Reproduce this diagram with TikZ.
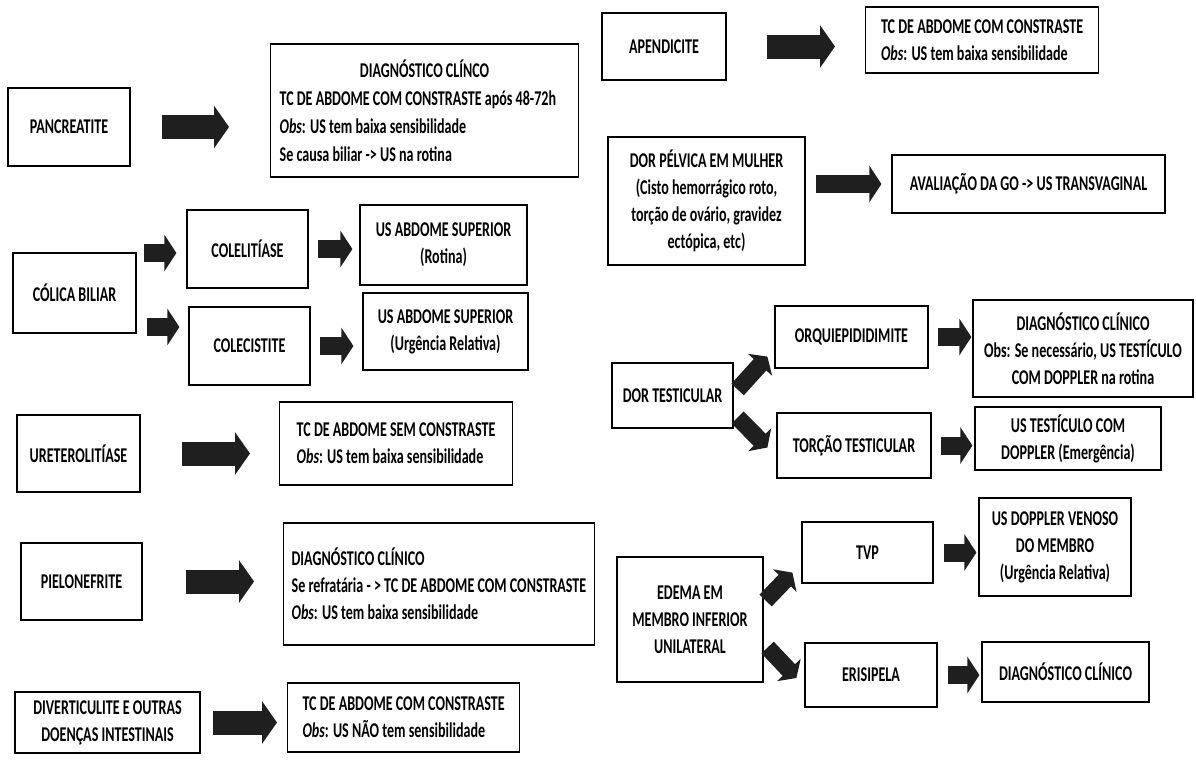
\documentclass[tikz,border=0pt]{standalone}
\usepackage{fontspec}
\setmainfont{Carlito}[FakeStretch=0.67]
\usetikzlibrary{arrows.meta,calc}

\begin{document}
\begin{tikzpicture}[x=1pt, y=-1pt,
    every node/.style={font=\fontsize{21}{27}\selectfont\bfseries},
    box/.style={draw, line width=1.2pt, inner sep=0pt, align=center},
    lbox/.style={draw, line width=1.2pt, inner xsep=11pt, inner ysep=0pt, align=flush left, anchor=west},
    blk/.style={line width=24pt, black!88, -{Triangle[length=15pt,width=42pt]}},
    sblk/.style={line width=18pt, black!88, -{Triangle[length=12pt,width=36pt]}},
    dblk/.style={line width=17pt, black!88, -{Triangle[length=11pt,width=32pt]}}]
  \fill [white] (0,0) rectangle (1196,769);
  \useasboundingbox (0,0) rectangle (1196,769);

  % coluna esquerda
  \node [box, minimum width=122pt, minimum height=78pt] (pan) at (69,127) {PANCREATITE};
  \node [lbox, text width=290pt, inner xsep=9pt, minimum height=133pt] (panres) at (270,110.5)
    {\makebox[290pt]{DIAGNÓSTICO CLÍNCO}\\[1pt] TC DE ABDOME COM CONSTRASTE após 48-72h\\[1pt] \textit{Obs}: US tem baixa sensibilidade\\[1pt] Se causa biliar -> US na rotina};
  \node [box, minimum width=123pt, minimum height=80pt] (col) at (74.5,293) {CÓLICA BILIAR};
  \node [box, minimum width=121pt, minimum height=78pt] (lit) at (247.5,249) {COLELITÍASE};
  \node [box, minimum width=121pt, minimum height=78pt] (cis) at (249.5,346) {COLECISTITE};
  \node [box, minimum width=167pt, minimum height=80pt] (usr) at (443.5,245) {US ABDOME SUPERIOR\\(Rotina)};
  \node [box, minimum width=165pt, minimum height=77pt] (usu) at (445.5,331.5) {US ABDOME SUPERIOR\\(Urgência Relativa)};
  \node [box, minimum width=123pt, minimum height=77pt] (ure) at (78.5,453.5) {URETEROLITÍASE};
  \node [lbox, minimum width=233pt, minimum height=83pt] (ureres) at (279,443.5)
    {TC DE ABDOME SEM CONSTRASTE\\ \textit{Obs}: US tem baixa sensibilidade};
  \node [box, minimum width=121pt, minimum height=77pt] (pie) at (81.5,581.5) {PIELONEFRITE};
  \node [lbox, inner xsep=8pt, minimum width=309pt, minimum height=122pt] (pieres) at (283,584)
    {DIAGNÓSTICO CLÍNICO\\ Se refratária - > TC DE ABDOME COM CONSTRASTE\\ \textit{Obs}: US tem baixa sensibilidade};
  \node [box, minimum width=185pt, minimum height=61pt] (div) at (107.5,722.5) {DIVERTICULITE E OUTRAS\\DOENÇAS INTESTINAIS};
  \node [lbox, minimum width=232pt, minimum height=69pt] (divres) at (287,717.5)
    {TC DE ABDOME COM CONSTRASTE\\ \textit{Obs}: US NÃO tem sensibilidade};

  % coluna direita
  \node [box, minimum width=124pt, minimum height=67pt] (ape) at (664,46.5) {APENDICITE};
  \node [lbox, minimum width=233pt, minimum height=66pt] (aperes) at (865,40)
    {TC DE ABDOME COM CONSTRASTE\\ \textit{Obs}: US tem baixa sensibilidade};
  \node [box, minimum width=197pt, minimum height=128pt] (pel) at (706.5,201)
    {DOR PÉLVICA EM MULHER\\(Cisto hemorrágico roto,\\torção de ovário, gravidez\\ectópica, etc)};
  \node [box, minimum width=273pt, minimum height=58pt] (pelres) at (1028.5,184) {AVALIAÇÃO DA GO -> US TRANSVAGINAL};
  \node [box, minimum width=121pt, minimum height=65pt] (dor) at (672.5,395.5) {DOR TESTICULAR};
  \node [box, minimum width=153pt, minimum height=62pt] (orq) at (851.5,337) {ORQUIEPIDIDIMITE};
  \node [box, minimum width=154pt, minimum height=65pt] (tor) at (854,445.5) {TORÇÃO TESTICULAR};
  \node [box, minimum width=220pt, minimum height=97pt] (orqres) at (1083,348.5)
    {DIAGNÓSTICO CLÍNICO\\Obs: Se necessário, US TESTÍCULO\\COM DOPPLER na rotina};
  \node [box, minimum width=186pt, minimum height=63pt] (torres) at (1068,438.5) {US TESTÍCULO COM\\DOPPLER (Emergência)};
  \node [box, minimum width=146pt, minimum height=125pt] (ede) at (690,619.5) {EDEMA EM\\MEMBRO INFERIOR\\UNILATERAL};
  \node [box, minimum width=131pt, minimum height=61pt] (tvp) at (867.5,552.5) {TVP};
  \node [box, minimum width=132pt, minimum height=64pt] (eri) at (871,675) {ERISIPELA};
  \node [box, minimum width=152pt, minimum height=98pt] (tvpres) at (1055,547) {US DOPPLER VENOSO\\DO MEMBRO\\(Urgência Relativa)};
  \node [box, minimum width=167pt, minimum height=60pt] (erires) at (1065.5,672) {DIAGNÓSTICO CLÍNICO};

  \coordinate (c1) at ($(col.east)+(0,-40)$);
  \coordinate (c2) at ($(col.east)+(0,34)$);
  \coordinate (d1) at ($(dor.east)+(4,-6)$);
  \coordinate (d2) at ($(orq.south west)+(-7,-12)$);
  \coordinate (d3) at ($(dor.east)+(4,22)$);
  \coordinate (d4) at ($(tor.west)+(-9,2)$);
  \coordinate (e1) at ($(ede.east)+(2,-19)$);
  \coordinate (e2) at ($(tvp.south west)+(-9,-11)$);
  \coordinate (e3) at ($(ede.east)+(4,28)$);
  \coordinate (e4) at ($(eri.west)+(-8,3)$);

  \draw [blk, shorten <=31pt, shorten >=41pt] (pan.east) -- (pan.east -| panres.west);
  \draw [sblk, shorten <=7pt, shorten >=10pt] (c1) -- (c1 -| lit.west);
  \draw [sblk, shorten <=10pt, shorten >=9pt] (c2) -- (c2 -| cis.west);
  \draw [sblk, shorten <=9pt, shorten >=7pt] (lit.east) -- (lit.east -| usr.west);
  \draw [sblk, shorten <=9pt, shorten >=9pt] (cis.east) -- (cis.east -| usu.west);
  \draw [blk, shorten <=41pt, shorten >=29pt] (ure.east) -- (ure.east -| ureres.west);
  \draw [blk, shorten <=43pt, shorten >=29pt] (pie.east) -- (pie.east -| pieres.west);
  \draw [blk, shorten <=12pt, shorten >=10pt] (div.east) -- (div.east -| divres.west);
  \draw [blk, shorten <=40pt, shorten >=30pt] (ape.east) -- (ape.east -| aperes.west);
  \draw [sblk, shorten <=10pt, shorten >=10pt] (pel.east |- pelres.west) -- (pelres.west);
  \draw [dblk] (d1) -- (d2);
  \draw [dblk] (d3) -- (d4);
  \draw [sblk, shorten <=9pt, shorten >=1pt] (orq.east) -- (orq.east -| orqres.west);
  \draw [sblk, shorten <=9pt, shorten >=2pt] (tor.east) -- (tor.east -| torres.west);
  \draw [dblk] (e1) -- (e2);
  \draw [dblk] (e3) -- (e4);
  \draw [sblk, shorten <=10pt, shorten >=2pt] (tvp.east) -- (tvp.east -| tvpres.west);
  \draw [sblk, shorten <=10pt, shorten >=2pt] (eri.east) -- (eri.east -| erires.west);
\end{tikzpicture}
\end{document}
